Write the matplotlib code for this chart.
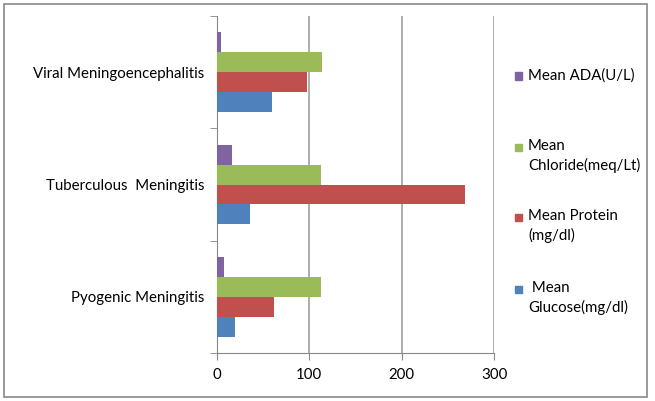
import numpy as np
import matplotlib.pyplot as plt
from matplotlib.patches import Rectangle

plt.rcParams['font.family'] = ['Lato', 'DejaVu Sans']

groups = ['Pyogenic Meningitis', 'Tuberculous  Meningitis', 'Viral Meningoencephalitis']
glucose = [19, 36, 60]
protein = [62, 269, 97]
chloride = [113, 113, 114]
ada = [8, 16, 4]

series = [glucose, protein, chloride, ada]
names = [' Mean\nGlucose(mg/dl)', 'Mean Protein\n(mg/dl)', 'Mean\nChloride(meq/Lt)', 'Mean ADA(U/L)']
colors = ['#4F81BD', '#C0504D', '#9BBB59', '#8064A2']

fig = plt.figure(figsize=(6.55, 4.01), dpi=100)
ax = fig.add_axes([217/655, 1-353/401, (494-217)/655, (353-16)/401])

y = np.arange(len(groups))
h = 0.178
for i, (vals, c) in enumerate(zip(series, colors)):
    ax.barh(y + (i - 1.5) * h, vals, height=h, color=c, zorder=3)

ax.set_xlim(0, 300)
ax.set_ylim(-0.5, 2.5)
ax.set_xticks([0, 100, 200, 300])
ax.set_yticks(y)
ax.set_yticklabels(groups, fontsize=10.8)
ax.set_yticks([-0.5, 0.5, 1.5, 2.5], minor=True)
ax.tick_params(axis='y', which='major', length=0, pad=9)
ax.tick_params(axis='y', which='minor', length=5, color='#888888', direction='out')
ax.tick_params(axis='x', length=5, color='#888888', labelsize=10.8, pad=6)
ax.grid(axis='x', color='#A0A0A0', linewidth=1.2, zorder=0)
for s in ['top', 'right']:
    ax.spines[s].set_visible(False)
ax.spines['bottom'].set_color('#888888')
ax.spines['left'].set_color('#888888')

# legend drawn in figure pixels
leg_y = [289, 217, 147, 76]
for c, n, yy in zip(colors, names, leg_y):
    fig.patches.append(Rectangle((515/655, 1-(yy+3.5)/401), 7/655, 7/401,
                                 transform=fig.transFigure, color=c))
    fig.text(528/655, 1-(yy-8)/401, n, fontsize=10.8, va='top', ha='left',
             linespacing=1.45, transform=fig.transFigure)

fig.patches.append(Rectangle((4/655, 4/401), 643/655, 393/401, transform=fig.transFigure,
                             fill=False, edgecolor='#888888', linewidth=1.2))

fig.savefig('out.png', dpi=100)
